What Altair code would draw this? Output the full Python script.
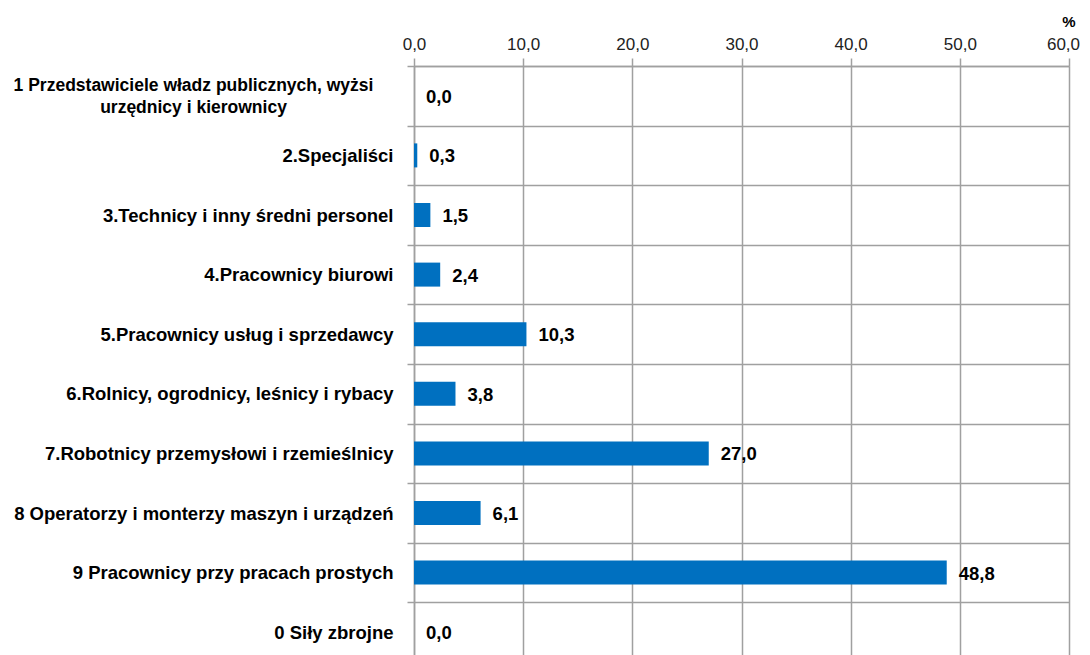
import altair as alt
import pandas as pd

categories = [
    "1 Przedstawiciele władz publicznych,  wyżsi|urzędnicy i kierownicy",
    "2.Specjaliści",
    "3.Technicy i inny średni personel",
    "4.Pracownicy biurowi",
    "5.Pracownicy usług i sprzedawcy",
    "6.Rolnicy, ogrodnicy,  leśnicy i rybacy",
    "7.Robotnicy przemysłowi i rzemieślnicy",
    "8 Operatorzy i monterzy maszyn i urządzeń",
    "9 Pracownicy przy pracach prostych",
    "0 Siły zbrojne",
]
values = [0.0, 0.3, 1.5, 2.4, 10.3, 3.8, 27.0, 6.1, 48.8, 0.0]
x_ticks = [0, 10, 20, 30, 40, 50, 60]
unit_label = "%"

df = pd.DataFrame({"cat": categories, "val": values})

GRID = "#A0A0A0"
FONT = "Liberation Sans"

first_test = "indexof(datum.label, 'Przedstawiciele') >= 0"
last_tick_test = "datum.value >= 60"

x_enc = alt.X(
    "val:Q",
    scale=alt.Scale(domain=[0, 60], nice=False, zero=True),
    axis=alt.Axis(
        orient="top",
        values=x_ticks,
        labelExpr="replace(format(datum.value, '.1f'), '.', ',')",
        labelFlush=False,
        labelOffset={"condition": {"test": last_tick_test, "value": -6}, "value": 0},
        title=None,
        grid=True,
        gridColor=GRID,
        gridWidth=1.5,
        domainColor=GRID,
        domainWidth=1.5,
        tickColor=GRID,
        tickWidth=1.5,
        tickSize=8,
        labelPadding=5,
        labelFont=FONT,
        labelFontSize=17,
        labelColor="#222222",
    ),
)

y_enc = alt.Y(
    "cat:N",
    sort=categories,
    scale=alt.Scale(paddingInner=0, paddingOuter=0),
    axis=alt.Axis(
        title=None,
        tickBand="extent",
        grid=True,
        gridColor=GRID,
        gridWidth=1.5,
        domainColor=GRID,
        domainWidth=1.5,
        tickColor=GRID,
        tickWidth=1.5,
        tickSize=7,
        labelExpr="split(datum.label, '|')",
        labelAlign={"condition": {"test": first_test, "value": "center"}, "value": "right"},
        labelPadding={"condition": {"test": first_test, "value": 214}, "value": 14},
        labelOffset={"condition": {"test": first_test, "value": -10}, "value": 0},
        labelFontSize={"condition": {"test": first_test, "value": 17.5}, "value": 18.5},
        labelFont=FONT,
        labelFontWeight="bold",
        labelColor="#000000",
        labelLineHeight=22,
        labelLimit=400,
    ),
)

bars = alt.Chart(df).mark_bar(color="#0070C0", size=24).encode(x=x_enc, y=y_enc)

text = (
    alt.Chart(df)
    .transform_calculate(lab="replace(format(datum.val, '.1f'), '.', ',')")
    .mark_text(align="left", baseline="middle", dx=12, dy=1, font=FONT, fontSize=18.5,
               fontWeight="bold", color="#000000")
    .encode(x="val:Q", y=alt.Y("cat:N", sort=categories), text="lab:N")
)

pct = (
    alt.Chart(pd.DataFrame({"x": [x_ticks[-1]], "t": [unit_label]}))
    .mark_text(align="center", baseline="middle", font=FONT, fontSize=15,
               fontWeight="bold", color="#000000")
    .encode(x="x:Q", y=alt.value(-44), text="t:N")
)

chart = (
    alt.layer(bars, text, pct)
    .properties(width=655, height=596,
                autosize=alt.AutoSizeParams(type="none"),
                padding={"left": 406, "top": 58, "right": 13, "bottom": 0})
    .configure_view(stroke=None)
)

chart.save("out.html", embed_options={"renderer": "svg", "actions": False})
